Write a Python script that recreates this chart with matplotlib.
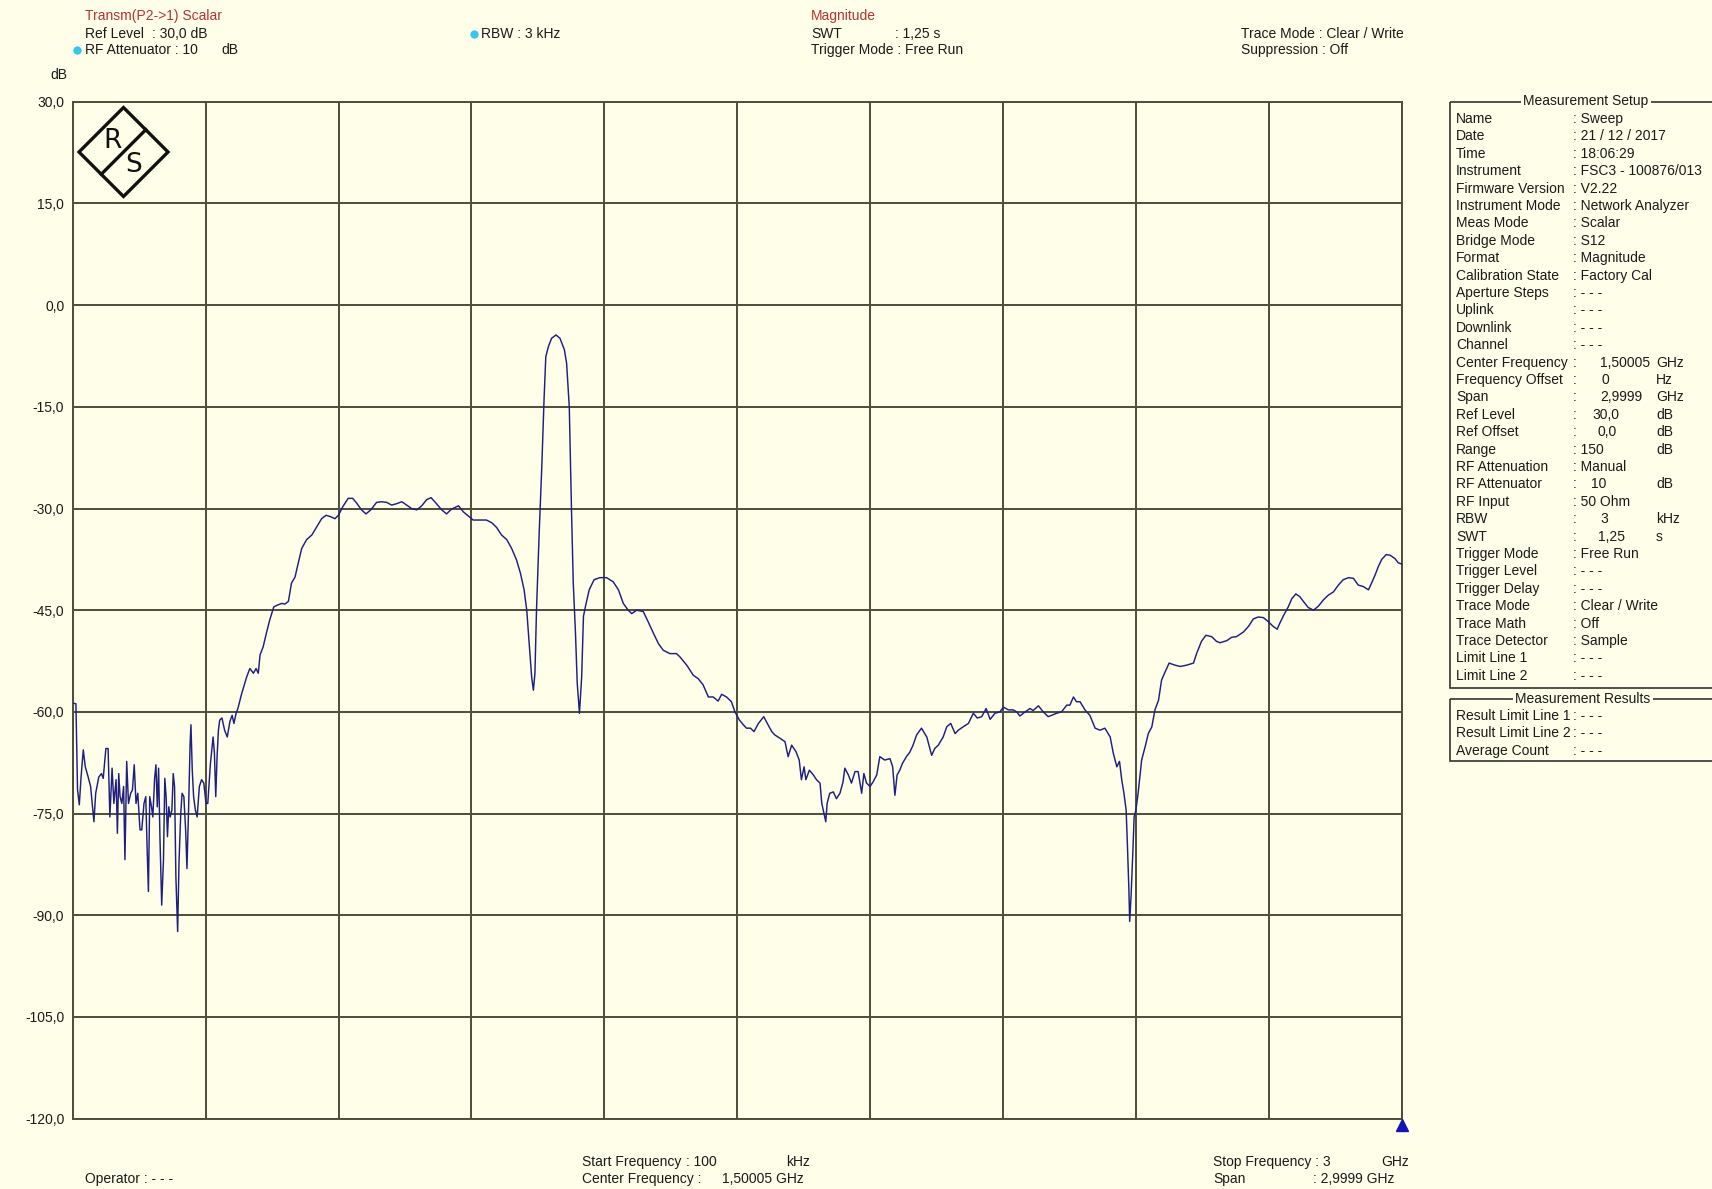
import numpy as np
import matplotlib
matplotlib.use('Agg')
import matplotlib.pyplot as plt
from matplotlib.patches import Polygon, Rectangle

plt.rcParams['font.family'] = ['Liberation Sans Narrow', 'Liberation Sans', 'DejaVu Sans']

# sweep settings
start_mhz = 0.1
stop_mhz = 3000.0
ref_level = 30.0
range_db = 150.0
div_db = 15.0

# trace (MHz, dB)
freq_a = [0.1, 7.4, 9, 11, 15, 19, 24, 28.5, 35, 40.5, 48, 52, 59, 65, 69, 75, 80, 84, 89, 93,
          98, 101, 104, 107, 111, 115, 118, 122, 126, 131, 135, 139, 143, 147, 152, 156, 161, 165,
          168, 171, 174, 178, 181, 185, 188, 191, 194, 197, 201, 205, 208, 211, 214, 217, 220, 224,
          227, 230, 233, 237, 240, 244, 247, 251, 255, 258, 262, 265, 267, 270, 273, 277, 281, 286,
          291, 296, 301, 305, 308, 311, 314, 317, 320, 323, 326, 329, 332, 337, 343, 349, 355, 360,
          364, 369, 373]
level_a = [-58.7, -58.8, -64.6, -71.5, -73.7, -69.6, -65.6, -68.1, -69.6, -71.0, -76.2, -72.0,
           -69.6, -69.1, -69.8, -65.4, -65.4, -75.5, -68.3, -73.5, -70.0, -77.9, -69.1, -72.5,
           -73.5, -71.0, -81.8, -67.3, -73.5, -72.0, -71.5, -67.8, -73.5, -72.0, -77.4, -77.4,
           -73.5, -72.5, -79.9, -86.5, -72.5, -74.0, -75.5, -69.8, -67.8, -74.0, -68.3, -78.4,
           -88.5, -81.8, -69.8, -72.5, -78.4, -74.0, -75.5, -74.5, -69.1, -71.0, -84.3, -92.4,
           -82.3, -75.0, -72.0, -72.5, -77.4, -83.1, -73.5, -64.9, -61.9, -68.6, -72.5, -74.5,
           -75.5, -71.0, -70.0, -70.5, -73.5, -73.5, -70.5, -67.6, -65.6, -63.7, -66.1, -72.5,
           -66.6, -62.7, -61.2, -60.9, -62.7, -63.7, -61.4, -60.5, -61.7, -60.2, -59.5]

freq_b = [381.5, 393, 400, 408, 414, 419, 423, 430, 438, 445, 454, 464, 472, 479, 487, 494, 502,
          509, 517, 528, 540, 551, 562, 572, 582, 592, 600, 610, 622, 632, 641, 652, 662, 673, 686,
          697, 709, 720, 731, 743, 754, 765, 777, 788, 799, 809, 820, 833, 844, 855, 871, 882, 893,
          904, 919, 934, 946, 957, 968, 980, 991, 1002, 1011, 1019]
level_b = [-57.3, -54.8, -53.6, -54.3, -53.6, -54.3, -51.6, -50.4, -48.2, -46.4, -44.5, -44.2,
           -44.0, -44.1, -43.7, -41.0, -40.1, -38.1, -35.9, -34.6, -33.9, -32.7, -31.5, -31.0,
           -31.2, -31.5, -31.0, -29.7, -28.5, -28.5, -29.2, -30.2, -30.8, -30.2, -29.1, -29.0,
           -29.1, -29.5, -29.3, -29.0, -29.5, -30.0, -30.2, -29.6, -28.7, -28.4, -29.2, -30.2,
           -30.8, -30.1, -29.6, -30.5, -31.1, -31.7, -31.7, -31.7, -32.1, -32.8, -33.9, -34.6,
           -35.9, -37.6, -39.6, -42.0]

freq_c = [1025, 1031, 1036, 1040, 1043.5, 1047, 1053, 1059, 1064, 1068, 1074, 1081, 1091, 1100,
          1110, 1115, 1121, 1126, 1130, 1135, 1139, 1144, 1149, 1153, 1159, 1166, 1177, 1190,
          1205, 1220, 1232, 1243, 1254, 1262, 1273, 1288, 1299, 1311, 1322, 1333, 1348, 1363]
level_c = [-45.0, -50.4, -54.8, -56.8, -54.3, -45.0, -33.7, -23.8, -14.0, -7.6, -6.1, -4.9, -4.4,
           -4.9, -6.6, -8.6, -15.0, -30.2, -41.0, -48.4, -55.8, -60.2, -54.8, -45.9, -44.0, -42.0,
           -40.5, -40.2, -40.2, -40.8, -42.0, -44.0, -45.0, -45.5, -45.0, -45.2, -46.7, -48.4,
           -49.9, -50.9, -51.4, -51.4]

freq_d = [1371, 1386, 1401, 1412, 1423, 1435, 1446, 1457, 1465, 1476, 1487, 1495, 1505, 1514,
          1521, 1530, 1538, 1548, 1560, 1568, 1578, 1585, 1597, 1608, 1615, 1623, 1633, 1640,
          1645, 1651, 1655, 1663, 1672, 1679, 1687, 1691, 1696, 1700, 1703, 1709, 1717, 1724,
          1732, 1739, 1743, 1751, 1758, 1766, 1773, 1781, 1786, 1792, 1800, 1807, 1815, 1822,
          1833, 1845, 1851, 1856, 1861, 1867, 1873, 1882, 1890, 1897, 1905, 1916, 1928, 1939,
          1946, 1954, 1965, 1973, 1982, 1992, 1999, 2010, 2022, 2033, 2042, 2052, 2062, 2071,
          2082, 2093, 2101, 2112, 2123, 2131, 2138, 2150, 2161, 2168, 2180, 2191, 2202, 2210,
          2221, 2232, 2244, 2251, 2259, 2266]
level_d = [-51.9, -53.1, -54.6, -55.1, -56.0, -57.8, -57.8, -58.4, -57.4, -57.8, -58.5, -60.0,
           -61.2, -61.9, -62.4, -62.4, -62.9, -61.7, -60.7, -61.7, -62.9, -63.4, -63.9, -64.4,
           -66.6, -64.9, -65.9, -67.1, -70.0, -68.1, -70.0, -68.6, -69.3, -70.0, -70.5, -73.5,
           -75.0, -76.2, -73.5, -72.0, -71.8, -72.8, -72.0, -70.3, -68.3, -69.3, -70.5, -68.8,
           -68.8, -72.0, -69.1, -70.5, -71.0, -70.3, -69.3, -66.6, -67.1, -66.9, -68.1, -72.3,
           -69.3, -68.6, -67.6, -66.6, -65.9, -64.9, -63.4, -62.4, -63.7, -66.4, -65.4, -64.9,
           -63.7, -62.2, -61.7, -63.2, -62.7, -62.2, -61.7, -60.2, -60.9, -60.7, -59.5, -61.1,
           -60.2, -60.0, -59.3, -59.7, -59.7, -60.0, -60.6, -60.0, -59.5, -59.8, -59.1, -60.0,
           -60.7, -60.5, -60.2, -60.0, -59.0, -59.0, -57.8, -58.5]

freq_e = [2274, 2285, 2296, 2308, 2319, 2330, 2342, 2349, 2357, 2363, 2368, 2373, 2378, 2381,
          2384, 2386, 2389, 2393, 2396, 2400, 2405, 2413, 2421, 2428, 2436, 2443, 2451, 2458,
          2466, 2475, 2488, 2500, 2515, 2530, 2537, 2548, 2558, 2571, 2582, 2590, 2605, 2616,
          2627, 2643, 2654, 2665, 2676, 2688, 2699, 2710, 2719, 2725, 2734, 2744, 2752, 2761,
          2770, 2778, 2789, 2801, 2812, 2823, 2834, 2846, 2857, 2868, 2880, 2891, 2902, 2913,
          2925, 2932, 2940, 2947, 2955, 2965, 2974, 2985, 2992, 3000]
level_e = [-58.5, -59.7, -60.5, -62.4, -62.7, -62.4, -63.7, -66.1, -68.1, -67.3, -70.0, -72.0,
           -74.5, -79.9, -85.8, -90.9, -87.3, -80.9, -75.5, -74.5, -72.0, -67.1, -65.1, -63.2,
           -62.2, -59.7, -58.3, -55.3, -54.1, -52.8, -53.1, -53.3, -53.1, -52.8, -51.4, -49.6,
           -48.7, -48.9, -49.6, -49.8, -49.5, -49.0, -48.9, -48.2, -47.4, -46.3, -46.0, -46.1,
           -46.7, -47.4, -47.8, -46.9, -45.7, -44.5, -43.3, -42.6, -43.0, -43.7, -44.6, -45.0,
           -44.4, -43.5, -42.8, -42.3, -41.3, -40.5, -40.2, -40.3, -41.3, -41.5, -42.0, -41.0,
           -39.8, -38.6, -37.5, -36.8, -36.9, -37.4, -38.0, -38.2]

setup_labels = ['Name', 'Date', 'Time', 'Instrument', 'Firmware Version', 'Instrument Mode',
                'Meas Mode', 'Bridge Mode', 'Format', 'Calibration State', 'Aperture Steps',
                'Uplink', 'Downlink', 'Channel', 'Center Frequency', 'Frequency Offset', 'Span',
                'Ref Level', 'Ref Offset', 'Range', 'RF Attenuation', 'RF Attenuator', 'RF Input',
                'RBW', 'SWT', 'Trigger Mode', 'Trigger Level', 'Trigger Delay', 'Trace Mode',
                'Trace Math', 'Trace Detector', 'Limit Line 1', 'Limit Line 2']
setup_values = ['Sweep', '21 / 12 / 2017', '18:06:29', 'FSC3 - 100876/013', 'V2.22',
                'Network Analyzer', 'Scalar', 'S12', 'Magnitude', 'Factory Cal', '- - -', '- - -',
                '- - -', '- - -', '1,50005', '0', '2,9999', '30,0', '0,0', '150', 'Manual', '10',
                '50 Ohm', '3', '1,25', 'Free Run', '- - -', '- - -', 'Clear / Write', 'Off',
                'Sample', '- - -', '- - -']
setup_units = ['', '', '', '', '', '', '', '', '', '', '', '', '', '', 'GHz', 'Hz', 'GHz', 'dB',
               'dB', 'dB', '', 'dB', '', 'kHz', 's', '', '', '', '', '', '', '', '']
result_labels = ['Result Limit Line 1', 'Result Limit Line 2', 'Average Count']
result_values = ['- - -', '- - -', '- - -']

freq = np.concatenate([freq_a, freq_b, freq_c, freq_d, freq_e])
level = np.concatenate([level_a, level_b, level_c, level_d, level_e])

bg = '#fefee9'
grid_col = '#4d4d3e'
trace_col = '#1f1f80'
red = '#b83232'
txt = '#1a1a1a'
fs = 10

W, H = 1712, 1189
fig = plt.figure(figsize=(W / 100, H / 100), dpi=100, facecolor=bg)

# measurement grid
L, R, T, B = 72.7, 1401.7, 101.7, 1118.7
ax = fig.add_axes([L / W, 1 - B / H, (R - L) / W, (B - T) / H])
ax.set_facecolor(bg)
ax.plot(freq, level, color=trace_col, lw=1.05, zorder=3)
ax.set_xlim(start_mhz, stop_mhz)
ax.set_ylim(ref_level - range_db, ref_level)
ax.set_xticks(np.linspace(start_mhz, stop_mhz, 11))
yt = np.arange(ref_level - range_db, ref_level + 1, div_db)
ax.set_yticks(yt)
ax.set_yticklabels([('%.1f' % v).replace('.', ',') for v in yt], fontsize=fs, color=txt)
ax.set_xticklabels([])
ax.tick_params(length=0, pad=6)
ax.grid(True, color=grid_col, lw=1.4)
for s in ax.spines.values():
    s.set_color(grid_col)
    s.set_linewidth(1.4)
# stop marker under the axis
ax.plot([stop_mhz], [ref_level - range_db - 0.9], marker='^', ms=9, color='#1414b4',
        clip_on=False, zorder=5)

# overlay in pixel coordinates for all the screen text
ov = fig.add_axes([0, 0, 1, 1], facecolor='none')
ov.set_xlim(0, W)
ov.set_ylim(H, 0)
ov.axis('off')


def put(x, y, s, color=txt, size=fs, **kw):
    ov.text(x, y, s, color=color, fontsize=size, va='center', ha=kw.pop('ha', 'left'), **kw)


def dot(x, y):
    ov.plot([x], [y], 'o', ms=6, color='#35c8ea', mec='none')


put(85, 16.4, 'Transm(P2->1) Scalar', color=red)
put(85, 33.8, 'Ref Level')
put(152, 33.8, ': 30,0 dB')
dot(77, 50.2)
put(85, 50.2, 'RF Attenuator : 10')
put(221, 50.2, 'dB')
put(50, 75.3, 'dB')
dot(474, 33.8)
put(481, 33.8, 'RBW : 3 kHz')
put(811, 16.4, 'Magnitude', color=red)
put(811, 33.8, 'SWT')
put(895, 33.8, ': 1,25 s')
put(811, 50.2, 'Trigger Mode : Free Run')
put(1241, 33.8, 'Trace Mode : Clear / Write')
put(1241, 50.2, 'Suppression : Off')

put(85, 1179, 'Operator : - - -')
put(582, 1162, 'Start Frequency')
put(686, 1162, ': 100')
put(786, 1162, 'kHz')
put(582, 1179, 'Center Frequency :')
put(722, 1179, '1,50005 GHz')
put(1213, 1162, 'Stop Frequency : 3')
put(1381, 1162, 'GHz')
put(1213, 1179, 'Span')
put(1313, 1179, ': 2,9999 GHz')

# R&S logo
cx, cy, hw = 123.5, 152.0, 44.5
ov.add_patch(Polygon([[cx, cy - hw], [cx + hw, cy], [cx, cy + hw], [cx - hw, cy]],
                     closed=True, fill=False, ec='#111111', lw=2.4))
ov.plot([cx - hw / 2, cx + hw / 2], [cy + hw / 2, cy - hw / 2], color='#111111', lw=2.4)
ov.text(cx - 11, cy - 11, 'R', fontsize=19, color='#111111', ha='center', va='center',
        family='DejaVu Sans')
ov.text(cx + 10, cy + 13, 'S', fontsize=19, color='#111111', ha='center', va='center',
        family='DejaVu Sans')

# measurement setup panel
box_l = 1450
ov.add_patch(Rectangle((box_l, 101.5), 300, 688 - 101.5, fill=False, ec='#333333', lw=1.2))
put(1586, 101.5, 'Measurement Setup', ha='center', bbox=dict(fc=bg, ec='none', pad=1.5))
num_x = {'Center Frequency': 1600, 'Frequency Offset': 1602, 'Span': 1600, 'Ref Level': 1592,
         'Ref Offset': 1598, 'RF Attenuator': 1591, 'RBW': 1600, 'SWT': 1598}
for i, (lab, val, unit) in enumerate(zip(setup_labels, setup_values, setup_units)):
    y = 119 + i * 17.4
    put(1456, y, lab)
    if lab in num_x:
        put(1573, y, ':')
        put(num_x[lab], y, val)
    else:
        put(1573, y, ': ' + val)
    if unit:
        put(1656, y, unit)

ov.add_patch(Rectangle((box_l, 699), 300, 761 - 699, fill=False, ec='#333333', lw=1.2))
put(1583, 699, 'Measurement Results', ha='center', bbox=dict(fc=bg, ec='none', pad=1.5))
for i, (lab, val) in enumerate(zip(result_labels, result_values)):
    y = 716 + i * 17.4
    put(1456, y, lab)
    put(1573, y, ': ' + val)

fig.savefig('out.png', dpi=100, facecolor=bg)
